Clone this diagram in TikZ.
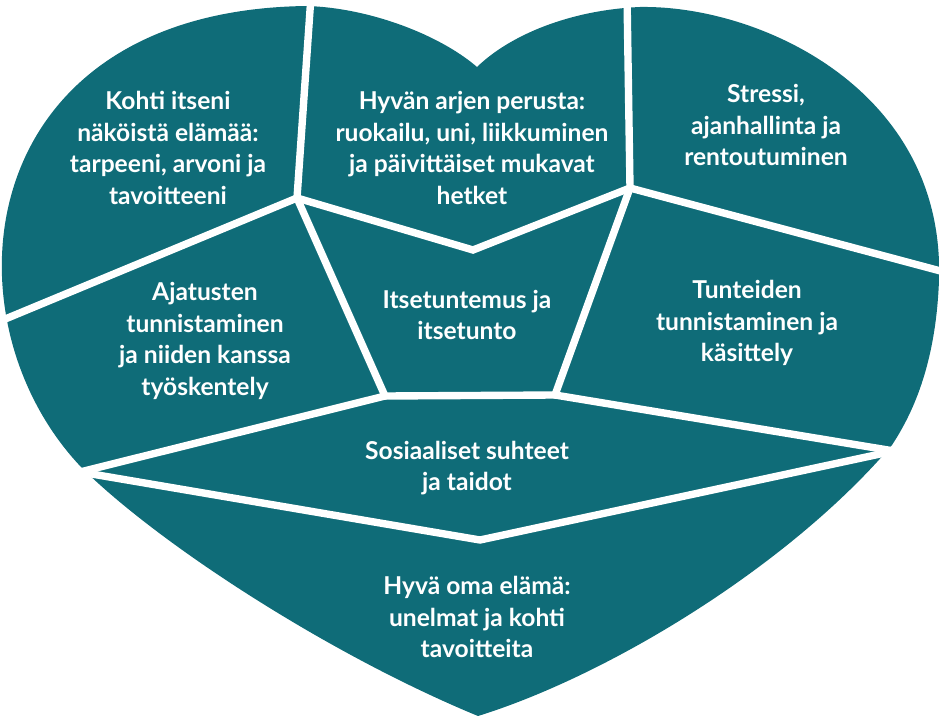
\documentclass[tikz,border=0pt]{standalone}
\usepackage{fontspec}
\setmainfont{Lato}
\usepackage{xcolor}
\definecolor{heartteal}{HTML}{0F6C78}
\tikzset{
    part/.style={text=white, align=center, font=\fontsize{14}{18}\selectfont\bfseries, inner sep=0pt},
    gap/.style={draw=white, line width=4.2pt, line cap=round},
}

\begin{document}
\begin{tikzpicture}[x=0.02cm, y=-0.02cm]
    \useasboundingbox (0,0) rectangle (939,716);

    % Heart outline
    \fill[heartteal] (478,716) .. controls (330,655) and (160,545) .. (82,468)
        .. controls (-60,320) and (-30,10) .. (307,6)
        .. controls (370,8) and (440,35) .. (477,67)
        .. controls (510,35) and (570,10) .. (640,7)
        .. controls (760,5) and (945,90) .. (939,280)
        .. controls (936,360) and (915,410) .. (892,445)
        .. controls (790,565) and (610,675) .. (478,716) -- cycle;

    % Junctions
    \coordinate (j1) at (297,198);
    \coordinate (j2) at (630,188);
    \coordinate (j3) at (385,396);
    \coordinate (j4) at (555,395);
    \coordinate (vtop) at (473,250);
    \coordinate (vbot) at (480,540);
    \coordinate (ltip) at (80,472);
    \coordinate (rtip) at (894,451);
    \coordinate (top1) at (311,-4);
    \coordinate (top2) at (627,-4);
    \coordinate (ledge) at (-2,322);
    \coordinate (redge) at (948,273);

    % Gaps between parts
    \draw[gap] (top1) -- (j1);
    \draw[gap] (top2) -- (j2);
    \draw[gap] (ledge) -- (j1);
    \draw[gap] (redge) -- (j2);
    \draw[gap, line join=miter] (j1) -- (vtop) -- (j2);
    \draw[gap] (j1) -- (j3);
    \draw[gap] (j2) -- (j4);
    \draw[gap, line join=miter] (j3) -- (j4);
    \draw[gap] (j3) -- (ltip);
    \draw[gap] (j4) -- (rtip);
    \draw[gap, line join=miter] (ltip) -- (vbot) -- (rtip);

    % Labels
    \node[part] (kohti) at (168,148) {Kohti itseni\\näköistä elämää:\\tarpeeni, arvoni ja\\tavoitteeni};
    \node[part] (arki) at (472,148) {Hyvän arjen perusta:\\ruokailu, uni, liikkuminen\\ja päivittäiset mukavat\\hetket};
    \node[part] (stressi) at (766,125) {Stressi,\\ajanhallinta ja\\rentoutuminen};
    \node[part] (ajatus) at (205,341) {Ajatusten\\tunnistaminen\\ja niiden kanssa\\työskentely};
    \node[part] (itse) at (467,315) {Itsetuntemus ja\\itsetunto};
    \node[part] (tunne) at (747,323) {Tunteiden\\tunnistaminen ja\\käsittely};
    \node[part] (sosiaali) at (467,468) {Sosiaaliset suhteet\\ja taidot};
    \node[part] (elama) at (477,617) {Hyvä oma elämä:\\unelmat ja kohti\\tavoitteita};
\end{tikzpicture}
\end{document}
